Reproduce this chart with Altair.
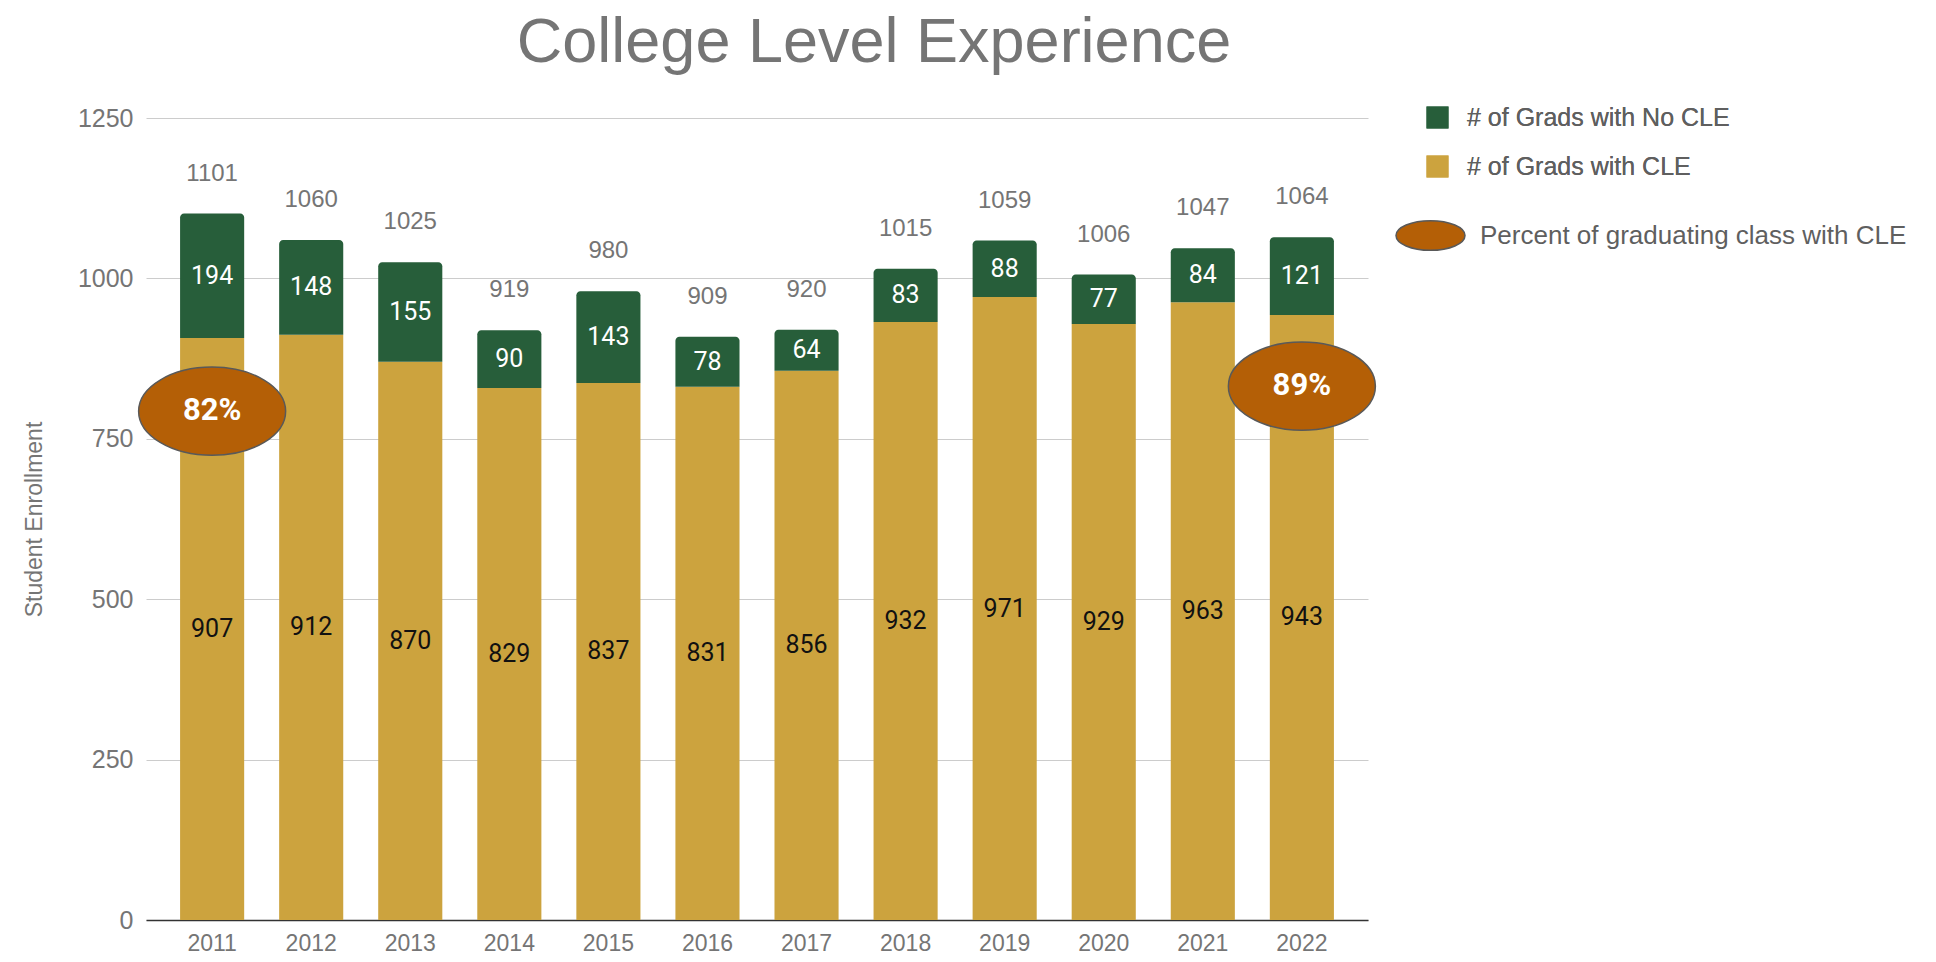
import altair as alt
import pandas as pd

years = ["2011", "2012", "2013", "2014", "2015", "2016", "2017", "2018", "2019", "2020", "2021", "2022"]
with_cle = [907, 912, 870, 829, 837, 831, 856, 932, 971, 929, 963, 943]
no_cle = [194, 148, 155, 90, 143, 78, 64, 83, 88, 77, 84, 121]
totals = [1101, 1060, 1025, 919, 980, 909, 920, 1015, 1059, 1006, 1047, 1064]

pct_years = ["2011", "2022"]
pct_labels = ["82%", "89%"]
pct_anchor = [793, 832]

S_NO = "# of Grads with No CLE"
S_CLE = "# of Grads with CLE"
S_PCT = "Percent of graduating class with CLE"

GREEN = "#275e3a"
GOLD = "#cca33e"
ORANGE = "#b45f06"
GREY = "#757575"

rows = []
for y, c, n, t in zip(years, with_cle, no_cle, totals):
    rows.append({"year": y, "series": S_CLE, "lo": 0, "hi": c, "val": c, "total": t})
    rows.append({"year": y, "series": S_NO, "lo": c, "hi": t, "val": n, "total": t})
df = pd.DataFrame(rows)
df["mid"] = (df["lo"] + df["hi"]) / 2

pdf = pd.DataFrame({"year": pct_years, "label": pct_labels, "anchor": pct_anchor, "series": [S_PCT] * len(pct_years)})

x = alt.X("year:N", title=None, sort=years,
          scale=alt.Scale(paddingInner=0.353, paddingOuter=0.344),
          axis=alt.Axis(labelAngle=0, labelFont="Liberation Sans", labelFontSize=23, labelColor=GREY,
                        labelPadding=12, ticks=False, domainColor="#333333", domainWidth=1.5, grid=False))
yscale = alt.Scale(domain=[0, 1250], nice=False)

color = alt.Color("series:N",
                  scale=alt.Scale(domain=[S_NO, S_CLE], range=[GREEN, GOLD]),
                  legend=alt.Legend(title=None, orient="none", legendX=1279, legendY=-13,
                                    symbolType="square", symbolSize=484, symbolStrokeWidth=0,
                                    labelFont="Liberation Sans", labelFontSize=25, labelColor="#5f5f5f",
                                    labelOffset=17, rowPadding=23, padding=0, symbolOpacity=1,
                                    labelLimit=0))

base = alt.Chart(df)

gold = base.transform_filter(alt.datum.series == S_CLE).mark_bar().encode(
    x=x,
    y=alt.Y("lo:Q", scale=yscale, title="Student Enrollment",
            axis=alt.Axis(values=[0, 250, 500, 750, 1000, 1250], format="d", labelFont="Liberation Sans",
                          labelFontSize=25, labelColor=GREY, labelPadding=13, ticks=False, domain=False,
                          gridColor="#cccccc", gridWidth=1, titleFont="Liberation Sans", titleFontSize=23,
                          titleColor=GREY, titleFontWeight="normal", titlePadding=31)),
    y2="hi:Q",
    color=color,
)
green = base.transform_filter(alt.datum.series == S_NO).mark_bar(cornerRadiusTopLeft=4, cornerRadiusTopRight=4).encode(
    x=x, y=alt.Y("lo:Q", scale=yscale), y2="hi:Q", color=color,
)

lab_gold = base.transform_filter(alt.datum.series == S_CLE).mark_text(
    font="Roboto", fontSize=25, color="#111111", baseline="middle").encode(
    x=x, y=alt.Y("mid:Q", scale=yscale), text="val:Q")
lab_green = base.transform_filter(alt.datum.series == S_NO).mark_text(
    font="Roboto", fontSize=25, color="#ffffff", baseline="middle").encode(
    x=x, y=alt.Y("mid:Q", scale=yscale), text="val:Q")
lab_total = base.transform_filter(alt.datum.series == S_NO).mark_text(
    font="Liberation Sans", fontSize=24, color=GREY, baseline="middle", dy=-40).encode(
    x=x, y=alt.Y("hi:Q", scale=yscale), text="total:Q")

ELL_PLOT = "M -1 0 C -1 -0.3314 -0.5523 -0.6 0 -0.6 C 0.5523 -0.6 1 -0.3314 1 0 C 1 0.3314 0.5523 0.6 0 0.6 C -0.5523 0.6 -1 0.3314 -1 0 Z"
ELL_LEG = "M -1 0 C -1 -0.2375 -0.5523 -0.43 0 -0.43 C 0.5523 -0.43 1 -0.2375 1 0 C 1 0.2375 0.5523 0.43 0 0.43 C -0.5523 0.43 -1 0.2375 -1 0 Z"

ell = alt.Chart(pdf).mark_point(shape=ELL_PLOT, filled=True, size=21609, stroke="#595959",
                                strokeWidth=1.5, opacity=1).encode(
    x=x, y=alt.Y("anchor:Q", scale=yscale),
    fill=alt.Fill("series:N", scale=alt.Scale(domain=[S_PCT], range=[ORANGE]),
                  legend=alt.Legend(title=None, orient="none", legendX=1249, legendY=82,
                                    symbolType=ELL_LEG, symbolSize=4761, symbolStrokeColor="#595959",
                                    symbolStrokeWidth=1.5, symbolFillColor=ORANGE,
                                    labelFont="Liberation Sans", labelFontSize=26, labelColor="#5f5f5f",
                                    labelOffset=14, padding=0, symbolOpacity=1, labelLimit=0)),
)
ell_text = alt.Chart(pdf).mark_text(font="Roboto", fontSize=31, fontWeight="bold", color="#ffffff",
                                    baseline="middle").encode(
    x=x, y=alt.Y("anchor:Q", scale=yscale), text="label:N")

chart = alt.layer(gold, green, lab_gold, lab_green, lab_total, ell, ell_text).resolve_scale(
    color="independent", fill="independent"
).properties(
    width=1222, height=802,
    title=alt.TitleParams("College Level Experience", font="Liberation Sans", fontSize=63,
                          fontWeight="normal", color=GREY, anchor="middle", frame="group", dx=117,
                          offset=30),
    autosize=alt.AutoSizeParams(type="none"),
    padding={"left": 138, "top": 110, "right": 560, "bottom": 44},
).configure_view(stroke=None)

chart.save("out.html", embed_options={"renderer": "svg", "actions": False})
